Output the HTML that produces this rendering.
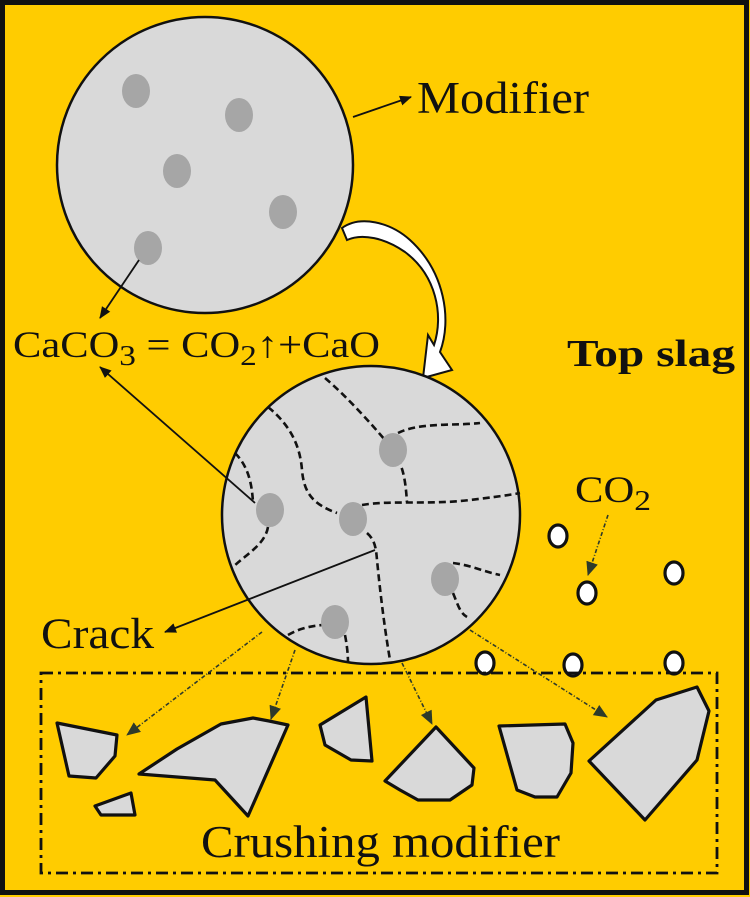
<!DOCTYPE html>
<html><head><meta charset="utf-8"><style>
html,body{margin:0;padding:0;background:#ffcc00;}
svg{display:block;}
text{font-family:"Liberation Serif",serif;fill:#111;}
</style></head><body>
<svg width="750" height="897" viewBox="0 0 750 897" xmlns="http://www.w3.org/2000/svg">
<defs>
<marker id="ah" markerWidth="12" markerHeight="12" refX="11" refY="6" orient="auto" markerUnits="userSpaceOnUse"><path d="M0,1 L12,6 L0,11 Z" fill="#111"/></marker>
<marker id="ag" markerWidth="14" markerHeight="14" refX="13" refY="7" orient="auto" markerUnits="userSpaceOnUse"><path d="M0,1 L14,7 L0,13 Z" fill="#2e3a2a"/></marker>
</defs>
<rect x="0" y="0" width="750" height="897" fill="#ffcc00"/>
<rect x="2.5" y="2.5" width="744" height="890" fill="none" stroke="#111" stroke-width="5"/>

<!-- top circle -->
<ellipse cx="205" cy="165" rx="148" ry="148" fill="#d9d9d9" stroke="#111" stroke-width="2.5"/>
<g fill="#a6a6a6">
<ellipse cx="136" cy="91" rx="14" ry="17"/>
<ellipse cx="239" cy="115" rx="14" ry="17"/>
<ellipse cx="177" cy="171" rx="14" ry="17"/>
<ellipse cx="283" cy="212" rx="14" ry="17"/>
<ellipse cx="148" cy="248" rx="14" ry="17"/>
</g>
<line x1="353" y1="117" x2="411" y2="97" stroke="#111" stroke-width="1.8" marker-end="url(#ah)"/>
<text x="417" y="113" font-size="45" textLength="172" lengthAdjust="spacingAndGlyphs">Modifier</text>
<line x1="139" y1="260" x2="100" y2="318" stroke="#111" stroke-width="1.8" marker-end="url(#ah)"/>

<!-- curved white arrow -->
<path d="M342,228 C360,215 390,222 410,240 C445,272 452,320 440,352 L452,370 L423,378 L428,335 L434,345 C444,315 436,275 405,252 C385,238 362,233 347,240 Z" fill="#fff" stroke="#111" stroke-width="2"/>

<!-- equation -->
<text x="13" y="357" font-size="37" textLength="367" lengthAdjust="spacingAndGlyphs">CaCO<tspan font-size="29" dy="8">3</tspan><tspan dy="-8"> = CO</tspan><tspan font-size="29" dy="8">2</tspan><tspan dy="-8">↑+CaO</tspan></text>
<text x="567" y="366" font-size="38" font-weight="bold" textLength="168" lengthAdjust="spacingAndGlyphs">Top slag</text>

<!-- bottom circle -->
<circle cx="371" cy="515" r="149" fill="#d9d9d9" stroke="#111" stroke-width="2.5"/>
<g fill="none" stroke="#111" stroke-width="2.6" stroke-dasharray="7,4">
<path d="M325,378 C345,395 368,420 385,440"/>
<path d="M398,433 C420,422 455,426 480,423"/>
<path d="M397,458 C405,470 406,490 407,502"/>
<path d="M362,505 C390,500 430,505 470,500 C495,497 510,495 520,493"/>
<path d="M268,407 C290,425 300,445 302,470 C304,495 315,505 337,513"/>
<path d="M235,453 C250,468 252,488 253,502"/>
<path d="M268,527 C265,545 245,555 232,568"/>
<path d="M367,533 C375,540 376,548 377,560 C380,590 384,625 390,660"/>
<path d="M453,563 C470,565 485,572 500,575"/>
<path d="M453,593 C458,605 460,613 467,617"/>
<path d="M288,635 C300,628 312,626 322,625"/>
<path d="M345,635 C347,645 348,655 348,663"/>
</g>
<g fill="#a6a6a6">
<ellipse cx="393" cy="450" rx="14" ry="17"/>
<ellipse cx="270" cy="510" rx="14" ry="17"/>
<ellipse cx="353" cy="519" rx="14" ry="17"/>
<ellipse cx="445" cy="579" rx="14" ry="17"/>
<ellipse cx="335" cy="622" rx="14" ry="17"/>
</g>
<line x1="255" y1="503" x2="100" y2="367" stroke="#111" stroke-width="1.8" marker-end="url(#ah)"/>
<line x1="375" y1="550" x2="165" y2="632" stroke="#111" stroke-width="1.8" marker-end="url(#ah)"/>
<text x="41" y="648" font-size="43" textLength="113" lengthAdjust="spacingAndGlyphs">Crack</text>

<!-- CO2 bubbles -->
<text x="575" y="502" font-size="37" textLength="76" lengthAdjust="spacingAndGlyphs">CO<tspan font-size="29" dy="8">2</tspan></text>
<line x1="608" y1="515" x2="588" y2="575" stroke="#2e3a2a" stroke-width="1.6" stroke-dasharray="4,2,1,2" marker-end="url(#ag)"/>
<g fill="#fff" stroke="#111" stroke-width="3.2">
<ellipse cx="558" cy="536" rx="9" ry="11"/>
<ellipse cx="587" cy="593" rx="9" ry="11"/>
<ellipse cx="674" cy="573" rx="9" ry="11"/>
<ellipse cx="485" cy="663" rx="9" ry="11"/>
<ellipse cx="573" cy="665" rx="9" ry="11"/>
<ellipse cx="674" cy="663" rx="9" ry="11"/>
</g>

<!-- crushing box -->
<rect x="41" y="673" width="676" height="200" fill="none" stroke="#111" stroke-width="2.8" stroke-dasharray="12,5,3,5"/>
<g stroke="#2e3a2a" stroke-width="1.6" stroke-dasharray="4,2,1,2" fill="none">
<line x1="262" y1="632" x2="127" y2="735" marker-end="url(#ag)"/>
<line x1="295" y1="650" x2="271" y2="719" marker-end="url(#ag)"/>
<line x1="402" y1="663" x2="432" y2="724" marker-end="url(#ag)"/>
<line x1="470" y1="630" x2="607" y2="717" marker-end="url(#ag)"/>
</g>
<g fill="#d9d9d9" stroke="#111" stroke-width="3.2" stroke-linejoin="round">
<polygon points="57,723 117,735 115,756 96,778 69,776"/>
<polygon points="95,806 131,793 135,815 101,815"/>
<polygon points="139,774 177,749 221,724 253,718 269,721 288,725 248,816 215,780"/>
<polygon points="320,725 366,697 372,761 351,760 325,745"/>
<polygon points="436,727 474,768 472,785 450,800 418,800 400,790 385,781"/>
<polygon points="499,726 565,724 573,743 571,773 557,797 535,797 517,790"/>
<polygon points="589,761 656,700 697,687 709,711 697,760 645,820"/>
</g>
<text x="201" y="857" font-size="45" textLength="359" lengthAdjust="spacingAndGlyphs">Crushing modifier</text>
</svg>
</body></html>
